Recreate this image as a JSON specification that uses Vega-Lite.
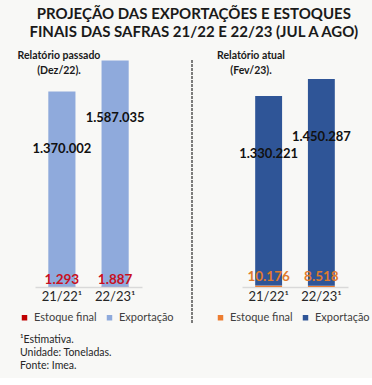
{
  "$schema": "https://vega.github.io/schema/vega-lite/v6.json",
  "background": "#f8f8f6",
  "padding": {"left": 17, "top": 6, "right": 5, "bottom": 5},
  "title": {
    "text": ["PROJEÇÃO DAS EXPORTAÇÕES E ESTOQUES", "FINAIS DAS SAFRAS 21/22 E 22/23  (JUL A AGO)"],
    "fontSize": 15, "fontWeight": "bold", "color": "#1a1a1a", "anchor": "middle", "lineHeight": 18, "offset": 11
  },
  "datasets": {
    "passado": [
      {"safra": "21/22¹", "serie": "Estoque final", "valor": 1293},
      {"safra": "21/22¹", "serie": "Exportação", "valor": 1370002},
      {"safra": "22/23¹", "serie": "Estoque final", "valor": 1887},
      {"safra": "22/23¹", "serie": "Exportação", "valor": 1587035}
    ],
    "atual": [
      {"safra": "21/22¹", "serie": "Estoque final", "valor": 10176},
      {"safra": "21/22¹", "serie": "Exportação", "valor": 1330221},
      {"safra": "22/23¹", "serie": "Estoque final", "valor": 8518},
      {"safra": "22/23¹", "serie": "Exportação", "valor": 1450287}
    ],
    "notas": [
      {"n": 1, "linha": "¹Estimativa."},
      {"n": 2, "linha": "Unidade: Toneladas."},
      {"n": 3, "linha": "Fonte: Imea."}
    ]
  },
  "vconcat": [
    {
      "hconcat": [
        {
          "width": 107, "height": 228,
          "data": {"name": "passado"},
          "title": {"text": ["Relatório passado", "(Dez/22)."], "frame": "group", "anchor": "start", "align": "center", "dx": 24, "fontSize": 10.5, "fontWeight": "bold", "color": "#1a1a1a", "lineHeight": 15, "offset": -17},
          "encoding": {
            "x": {"field": "safra", "type": "nominal", "sort": null,
              "scale": {"paddingInner": 0.49, "paddingOuter": 0.25},
              "axis": {"title": null, "labelAngle": 0, "ticks": false, "domainColor": "#d9d9d9", "domainWidth": 1.5, "labelFontSize": 13, "labelColor": "#262626", "labelPadding": 3}}
          },
          "layer": [
            {
              "mark": {"type": "bar"},
              "encoding": {
                "y": {"field": "valor", "type": "quantitative", "stack": "zero", "scale": {"domain": [0, 1600000]}, "axis": null},
                "color": {"field": "serie", "type": "nominal",
                  "scale": {"domain": ["Estoque final", "Exportação"], "range": ["#c00000", "#8faadc"]},
                  "legend": {"title": null, "orient": "none", "legendX": -16, "legendY": 253, "direction": "horizontal", "symbolType": "square", "symbolSize": 30, "labelFontSize": 11, "labelColor": "#404040", "columnPadding": 7, "labelOffset": 4}},
                "order": {"field": "serie", "sort": "ascending"}
              }
            },
            {
              "transform": [{"filter": "datum.serie == 'Exportação'"}],
              "mark": {"type": "text", "dy": 57, "fontSize": 13, "fontWeight": "bold", "color": "#111111"},
              "encoding": {
                "y": {"field": "valor", "type": "quantitative"},
                "text": {"field": "valor", "type": "quantitative", "format": ",d"}
              }
            },
            {
              "transform": [{"filter": "datum.serie == 'Estoque final'"}],
              "mark": {"type": "text", "baseline": "alphabetic", "dy": -3, "fontSize": 13.5, "fontWeight": "bold", "color": "#c8101e"},
              "encoding": {
                "y": {"field": "valor", "type": "quantitative"},
                "text": {"field": "valor", "type": "quantitative", "format": ",d"}
              }
            }
          ]
        },
        {
          "width": 1, "height": 264,
          "data": {"values": [{}]},
          "mark": {"type": "rule", "strokeDash": [3, 1], "color": "#000000", "strokeWidth": 1},
          "encoding": {
            "y": {"datum": 0, "type": "quantitative", "scale": {"domain": [0, 1]}, "axis": null},
            "y2": {"datum": 1}
          }
        },
        {
          "width": 106, "height": 228,
          "data": {"name": "atual"},
          "title": {"text": ["Relatório atual", "(Fev/23)."], "frame": "group", "anchor": "start", "align": "center", "dx": 9, "fontSize": 10.5, "fontWeight": "bold", "color": "#1a1a1a", "lineHeight": 15, "offset": -17},
          "encoding": {
            "x": {"field": "safra", "type": "nominal", "sort": null,
              "scale": {"paddingInner": 0.49, "paddingOuter": 0.25},
              "axis": {"title": null, "labelAngle": 0, "ticks": false, "domainColor": "#d9d9d9", "domainWidth": 1.5, "labelFontSize": 13, "labelColor": "#262626", "labelPadding": 3}}
          },
          "layer": [
            {
              "mark": {"type": "bar"},
              "encoding": {
                "y": {"field": "valor", "type": "quantitative", "stack": "zero", "scale": {"domain": [0, 1600000]}, "axis": null},
                "color": {"field": "serie", "type": "nominal",
                  "scale": {"domain": ["Estoque final", "Exportação"], "range": ["#ed7d31", "#2f5597"]},
                  "legend": {"title": null, "orient": "none", "legendX": -27, "legendY": 253, "direction": "horizontal", "symbolType": "square", "symbolSize": 30, "labelFontSize": 11, "labelColor": "#404040", "columnPadding": 7, "labelOffset": 4}},
                "order": {"field": "serie", "sort": "ascending"}
              }
            },
            {
              "transform": [{"filter": "datum.serie == 'Exportação'"}],
              "mark": {"type": "text", "dy": 57, "fontSize": 13, "fontWeight": "bold", "color": "#111111"},
              "encoding": {
                "y": {"field": "valor", "type": "quantitative"},
                "text": {"field": "valor", "type": "quantitative", "format": ",d"}
              }
            },
            {
              "transform": [{"filter": "datum.serie == 'Estoque final'"}],
              "mark": {"type": "text", "baseline": "alphabetic", "dy": -5, "fontSize": 13.5, "fontWeight": "bold", "color": "#e07a2c"},
              "encoding": {
                "y": {"field": "valor", "type": "quantitative"},
                "text": {"field": "valor", "type": "quantitative", "format": ",d"}
              }
            }
          ]
        }
      ],
      "spacing": 49.5,
      "bounds": "flush",
      "resolve": {"scale": {"x": "independent", "y": "independent", "color": "independent"}, "legend": {"color": "independent"}}
    },
    {
      "width": 0, "height": 40,
      "data": {"name": "notas"},
      "mark": {"type": "text", "align": "left", "dx": -25, "fontSize": 10.5, "color": "#262626"},
      "encoding": {
        "y": {"field": "n", "type": "ordinal", "axis": null, "scale": {"padding": 0.5}},
        "text": {"field": "linha", "type": "nominal"}
      }
    }
  ],
  "spacing": 9,
  "config": {
    "font": "Lato",
    "view": {"stroke": null},
    "axis": {"grid": false},
    "locale": {"number": {"decimal": ",", "thousands": ".", "grouping": [3], "currency": ["R$", ""]}}
  }
}
